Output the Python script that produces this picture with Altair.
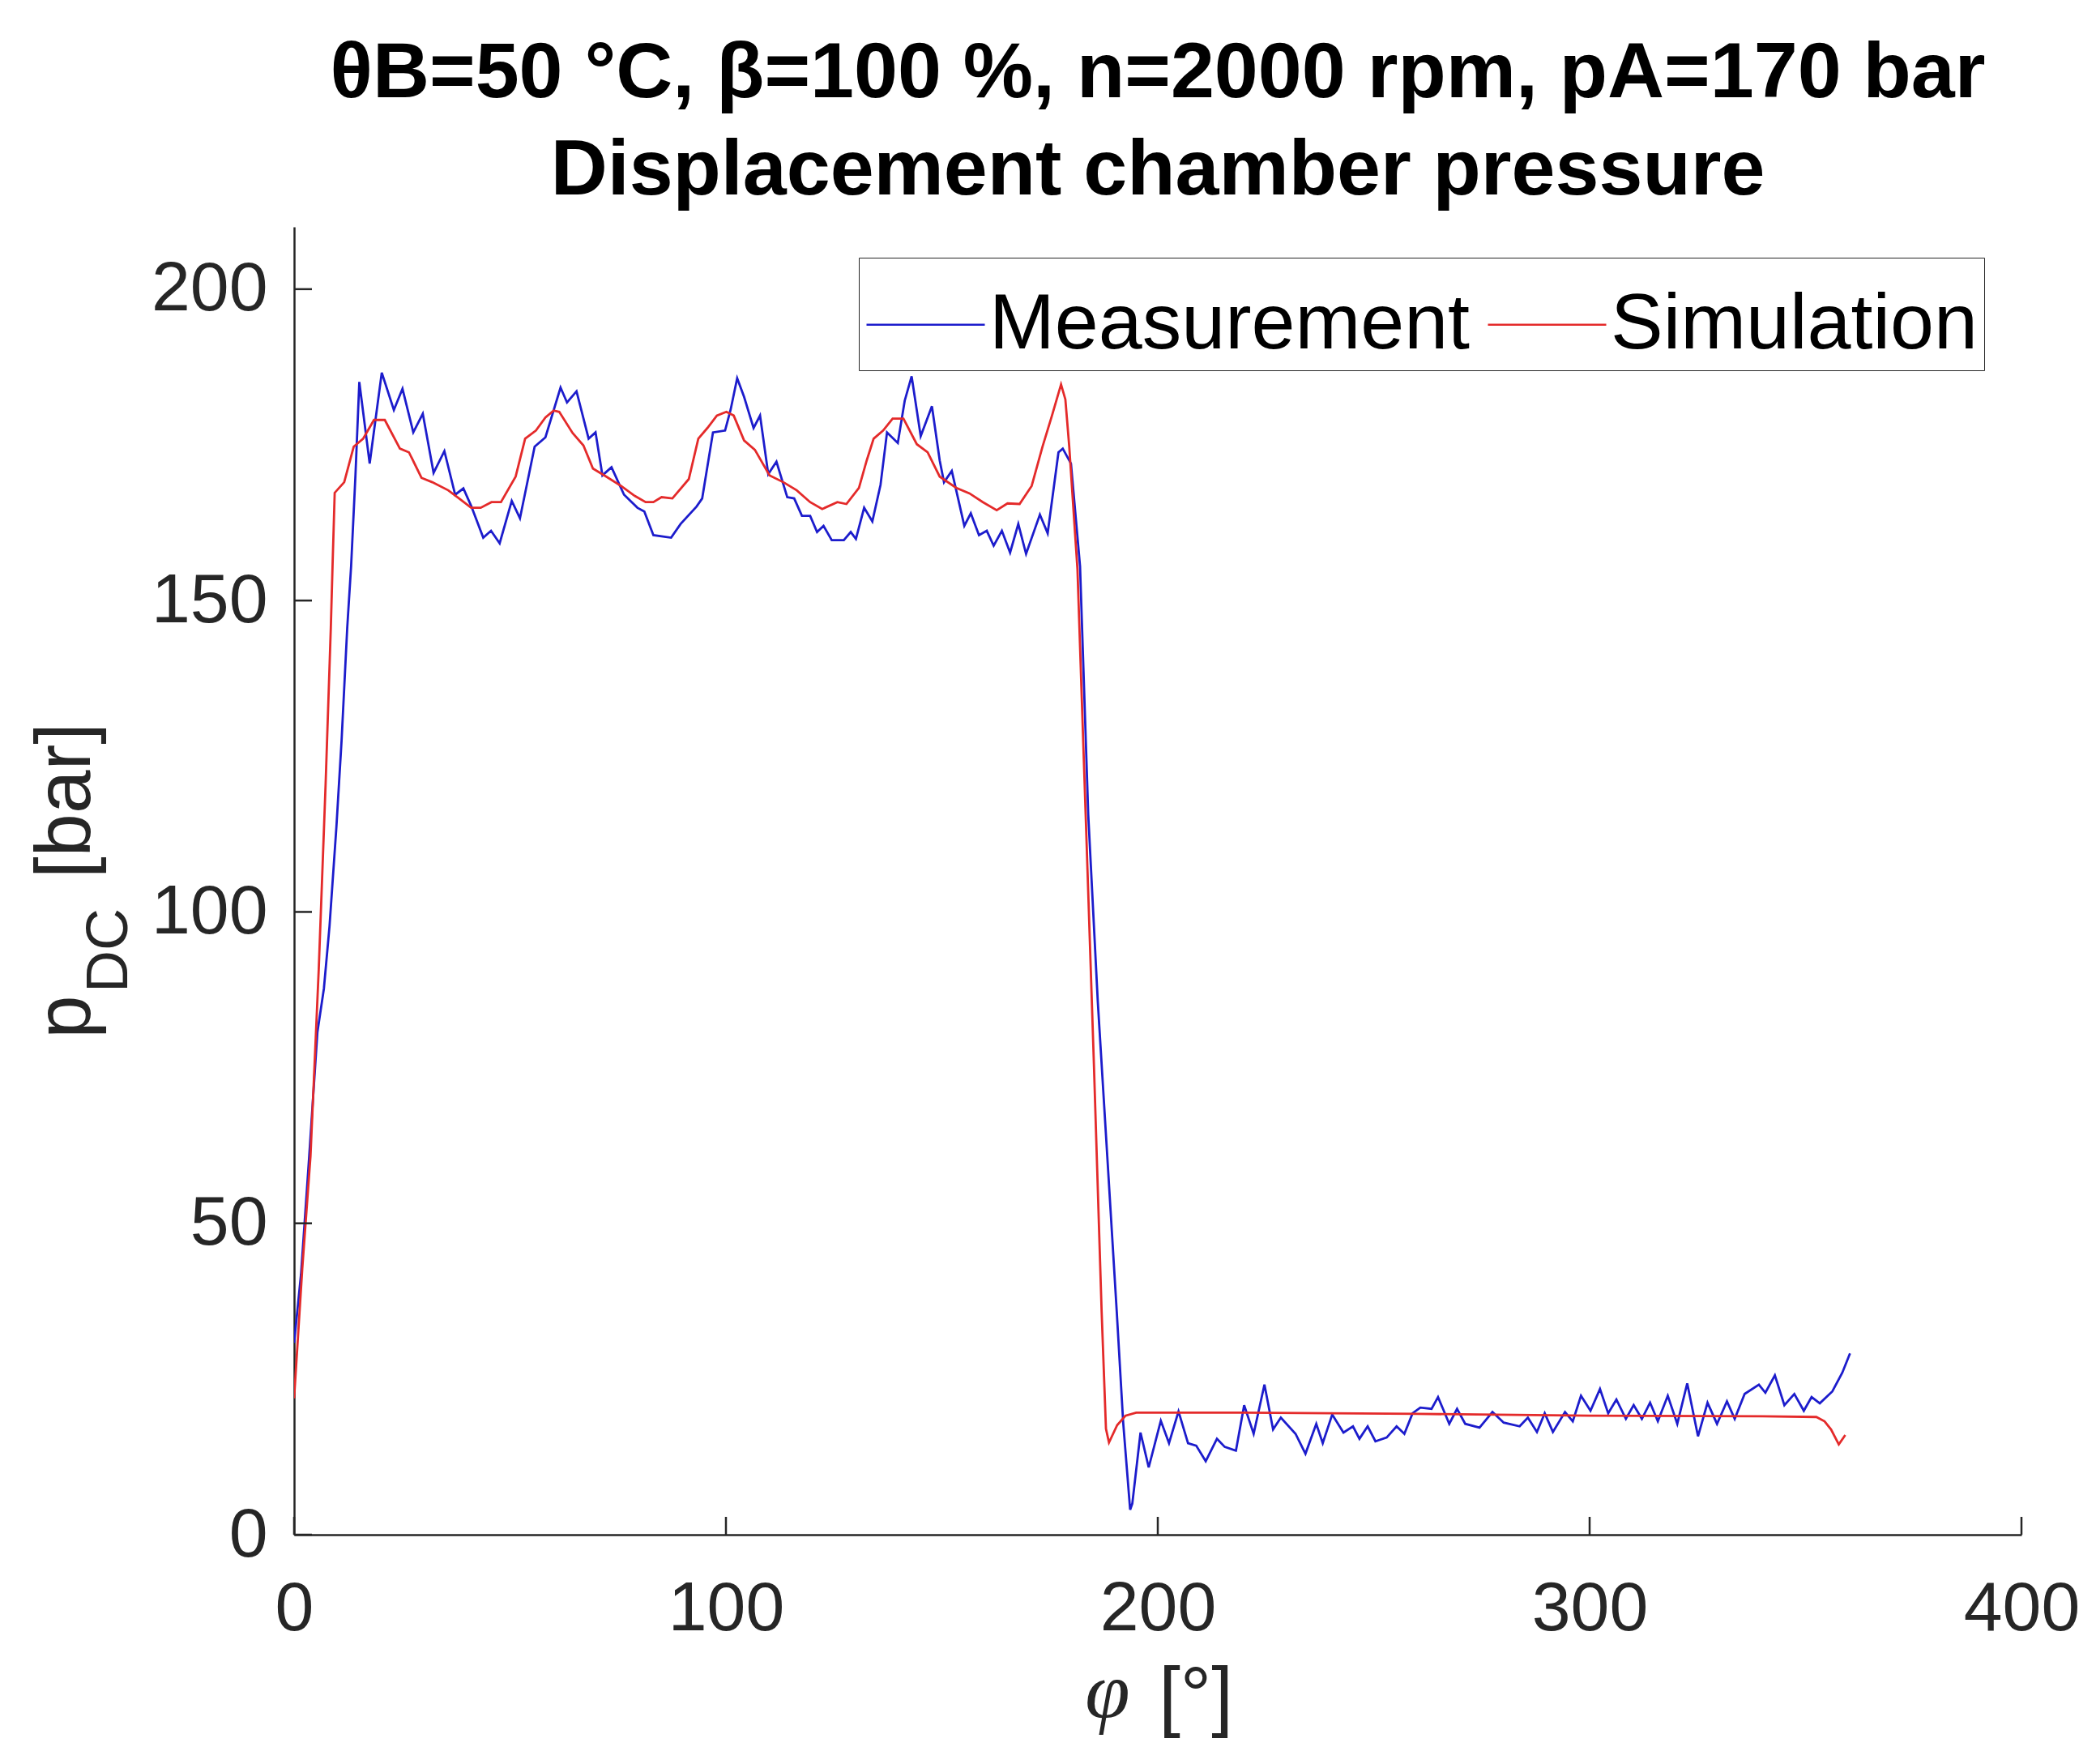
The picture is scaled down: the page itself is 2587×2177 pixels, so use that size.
import altair as alt
import pandas as pd

# ---------------- data ----------------
meas_phi = [0.0, 1.6, 3.5, 5.4, 6.9, 8.2, 9.8, 11.0, 12.3, 13.2, 14.2, 15.1, 17.5, 20.3, 23.1,
            25.1, 27.6, 29.8, 32.3, 34.8, 37.3, 39.2, 41.0, 43.8, 45.6, 47.6, 50.4, 52.3,
            55.7, 58.2, 61.7, 63.2, 65.4, 68.2, 69.8, 71.4, 73.5, 76.4, 79.5, 81.1, 83.2,
            87.3, 89.5, 93.2, 94.5, 97.0, 99.8, 101.1, 102.6, 104.2, 106.4, 107.9, 109.8,
            111.7, 114.2, 115.8, 117.6, 119.5, 121.1, 122.6, 124.5, 127.3, 128.9, 130.1,
            132.0, 133.9, 135.8, 137.3, 139.8, 141.4, 143.0, 145.1, 147.7, 149.5, 150.5,
            152.3, 155.2, 156.7, 158.6, 160.4, 162.0, 163.9, 165.8, 167.7, 169.5, 172.7,
            174.5, 177.0, 178.0, 179.9, 182.0, 183.9, 186.1, 188.3, 190.5, 192.0, 193.6,
            194.1, 196.0, 197.9, 200.7, 202.6, 204.8, 207.0, 208.9, 211.1, 213.7, 215.5,
            218.1, 220.0, 222.2, 224.7, 226.7, 228.5, 231.9, 234.2, 236.7, 238.2, 240.4,
            243.0, 245.2, 246.7, 248.6, 250.4, 253.0, 255.3, 257.1, 259.0, 260.8, 263.4,
            264.9, 267.5, 269.3, 271.2, 274.5, 277.5, 280.1, 283.8, 285.7, 287.8, 289.6,
            291.5, 294.3, 296.1, 298.0, 300.2, 302.4, 304.3, 306.2, 308.4, 310.2, 312.1,
            314.0, 315.8, 318.1, 320.3, 322.6, 325.1, 327.3, 329.5, 331.8, 333.6, 335.9,
            339.2, 340.7, 342.9, 345.1, 347.4, 349.6, 351.4, 353.3, 356.2, 358.5, 360.3]
meas_p = [30.8, 41.8, 60.8, 80.7, 87.7, 97.7, 113.7, 127.6, 145.6, 155.5, 170.0, 185.1, 172.0,
          186.6, 180.6, 184.0, 177.0, 180.0, 170.5, 174.0, 167.0, 168.0, 165.2, 160.1, 161.2,
          159.2, 166.0, 163.2, 174.7, 176.2, 184.2, 181.8, 183.6, 176.0, 177.0, 170.1, 171.4,
          167.0, 164.9, 164.3, 160.5, 160.1, 162.3, 165.1, 166.4, 177.0, 177.3, 180.7, 185.7,
          182.7, 177.7, 179.7, 170.3, 172.3, 166.6, 166.4, 163.6, 163.6, 161.0, 162.0, 159.7,
          159.7, 161.0, 159.9, 164.9, 162.7, 168.6, 177.0, 175.3, 182.1, 186.0, 176.4, 181.2,
          172.5, 169.0, 170.8, 162.0, 164.0, 160.5, 161.2, 158.8, 161.2, 157.7, 162.3, 157.5,
          163.8, 160.8, 173.8, 174.4, 172.0, 155.5, 115.6, 85.7, 60.8, 35.8, 17.9, 4.0, 5.0,
          16.4, 10.8, 18.3, 14.7, 19.8, 14.7, 14.3, 11.8, 15.4, 14.1, 13.5, 20.8, 16.2, 24.1,
          16.9, 18.8, 16.2, 13.0, 17.8, 14.7, 19.3, 16.4, 17.4, 15.4, 17.4, 15.0, 15.6, 17.4,
          16.2, 19.5, 20.4, 20.2, 22.1, 17.8, 20.2, 17.8, 17.2, 19.7, 18.0, 17.4, 18.8, 16.5,
          19.5, 16.5, 19.7, 18.2, 22.3, 19.9, 23.4, 19.5, 21.7, 18.6, 20.8, 18.6, 21.2, 18.2,
          22.3, 17.8, 24.3, 15.8, 21.2, 17.8, 21.4, 18.6, 22.6, 24.1, 22.8, 25.6, 20.8, 22.6,
          19.9, 22.1, 21.1, 23.0, 26.0, 29.1]

sim_phi = [0.0, 1.9, 3.8, 5.7, 7.3, 8.5, 8.9, 9.4, 11.6, 13.8, 16.0, 18.5, 21.0, 24.5, 26.6,
           29.5, 32.0, 35.7, 38.2, 41.0, 43.2, 45.7, 47.9, 51.3, 53.5, 56.0, 58.2, 60.1, 61.4,
           64.5, 67.0, 69.2, 72.3, 75.7, 78.9, 81.4, 83.2, 85.1, 87.6, 91.4, 93.6, 95.7, 97.9,
           100.1, 101.8, 104.2, 106.7, 110.1, 113.3, 116.4, 119.5, 122.3, 125.8, 127.9, 130.8,
           132.6, 134.2, 136.4, 138.6, 141.1, 144.2, 146.7, 149.5, 153.3, 156.4, 159.5, 162.7,
           165.2, 168.0, 170.8, 173.3, 175.5, 177.6, 178.6, 179.5, 181.4, 183.3, 185.2, 187.0,
           188.0, 188.7, 190.6, 192.5, 195.0, 220.0, 260.0, 300.0, 340.0, 352.5, 354.4, 355.9,
           357.7, 359.2]
sim_p = [21.9, 42.8, 60.8, 90.7, 120.6, 145.6, 155.5, 167.3, 169.0, 174.7, 176.0, 179.0, 179.0,
         174.4, 173.8, 169.7, 169.0, 167.7, 166.4, 164.9, 164.9, 165.8, 165.8, 169.9, 176.0,
         177.3, 179.4, 180.5, 180.3, 176.9, 174.9, 171.2, 169.9, 168.4, 166.8, 165.8, 165.8,
         166.6, 166.4, 169.5, 176.0, 177.7, 179.7, 180.3, 179.7, 175.7, 174.2, 170.1, 169.0,
         167.7, 165.8, 164.7, 165.8, 165.5, 168.1, 172.5, 176.0, 177.3, 179.2, 179.2, 175.1,
         173.8, 169.9, 168.1, 167.2, 165.8, 164.5, 165.6, 165.5, 168.4, 174.7, 179.7, 184.7,
         182.3, 174.7, 155.0, 115.6, 75.7, 35.8, 17.0, 14.8, 17.6, 19.1, 19.6, 19.6, 19.4,
         19.1, 19.0, 18.9, 18.2, 16.9, 14.5, 16.0]

series_names = ["Measurement", "Simulation"]
series_colors = ["#1c1ccc", "#e42a2a"]

x_ticks = [0, 100, 200, 300, 400]
y_ticks = [0, 50, 100, 150, 200]

title_lines = ["\u03b8B=50 \u00b0C, \u03b2=100 %, n=2000 rpm, pA=170 bar",
               "Displacement chamber pressure"]

# ---------------- tables ----------------
df = pd.concat([
    pd.DataFrame({"phi": meas_phi, "p": meas_p, "series": series_names[0]}),
    pd.DataFrame({"phi": sim_phi, "p": sim_p, "series": series_names[1]}),
], ignore_index=True)
xt = pd.DataFrame({"v": x_ticks})
yt = pd.DataFrame({"v": y_ticks})

W, H = 2132, 1614
FONT = "Liberation Sans"
AX = "#262626"

xs = alt.Scale(domain=[0, 400], nice=False, zero=False)
ys = alt.Scale(domain=[0, 210], nice=False, zero=False)
x_axis = alt.Axis(values=x_ticks, labelPadding=49, tickSize=0, grid=False,
                  labelFlush=False, labelOverlap=False)
y_axis = alt.Axis(values=y_ticks, labelPadding=33, tickSize=0, grid=False,
                  labelFlush=False, labelOverlap=False)

lines = alt.Chart(df).mark_line(strokeWidth=2.8, clip=True).encode(
    x=alt.X("phi:Q", scale=xs, title=None, axis=x_axis),
    y=alt.Y("p:Q", scale=ys, title=None, axis=y_axis),
    color=alt.Color("series:N",
                    scale=alt.Scale(domain=series_names, range=series_colors),
                    legend=alt.Legend(title=None, orient="none", legendX=697, legendY=38,
                                      direction="horizontal", symbolType="stroke",
                                      symbolSize=146 * 146, symbolStrokeWidth=2.5,
                                      labelFont=FONT, labelFontSize=97, labelColor="black",
                                      labelLimit=3000, labelOffset=4, columnPadding=16,
                                      padding=8, strokeColor=AX, fillColor="white")),
    order=alt.Order("phi:Q"),
)

xtick_rules = alt.Chart(xt).mark_rule(color=AX, strokeWidth=2.5).encode(
    x=alt.X("v:Q", scale=xs, title=None, axis=x_axis),
    y=alt.value(H), y2=alt.value(H - 22))
ytick_rules = alt.Chart(yt).mark_rule(color=AX, strokeWidth=2.5).encode(
    y=alt.Y("v:Q", scale=ys, title=None, axis=y_axis),
    x=alt.value(0), x2=alt.value(22))


def label(text, x, y, size, angle=0, font=FONT, style="normal", color=AX):
    kw = dict(align="center", baseline="alphabetic", fontSize=size, font=font,
              fontStyle=style, color=color)
    if angle:
        kw["angle"] = angle
    return alt.Chart(pd.DataFrame({"t": [text]})).mark_text(**kw).encode(
        text="t:N", x=alt.value(x), y=alt.value(y))


ylab_p = label("p", -252, 975, 96, angle=270)
ylab_dc = label("DC", -206, 893, 72, angle=270)
ylab_bar = label("[bar]", -252, 708, 96, angle=270)
xlab_phi = label("\u03c6", 1004, 1840, 100, font="Liberation Serif", style="italic")
xlab_deg = label("[\u00b0]", 1113, 1845, 96)

chart = alt.layer(
    lines, xtick_rules, ytick_rules, ylab_p, ylab_dc, ylab_bar, xlab_phi, xlab_deg
).properties(
    width=W, height=H,
    title=alt.TitleParams(text=title_lines, font=FONT, fontSize=97, fontWeight="bold",
                          color="black", anchor="middle", frame="group", offset=20,
                          lineHeight=120),
    padding={"left": 355, "top": 272, "right": 84, "bottom": 275},
    autosize=alt.AutoSizeParams(type="none"),
).configure_view(stroke=None).configure_axis(
    domainColor=AX, domainWidth=2.5,
    labelFont=FONT, labelFontSize=86, labelColor=AX,
)

chart.save("out.html", embed_options={"renderer": "svg", "actions": False})
